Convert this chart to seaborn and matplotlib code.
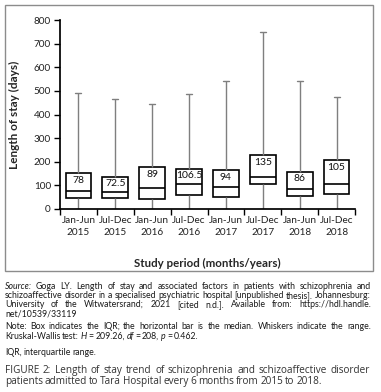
import numpy as np
import pandas as pd
import matplotlib
matplotlib.use("Agg")
import matplotlib.pyplot as plt
from matplotlib.patches import Rectangle
import seaborn as sns

# summary values per 6-month period (days)
periods = ["Jan-Jun\n2015", "Jul-Dec\n2015", "Jan-Jun\n2016", "Jul-Dec\n2016",
           "Jan-Jun\n2017", "Jul-Dec\n2017", "Jan-Jun\n2018", "Jul-Dec\n2018"]
mins = [1, 1, 1, 1, 1, 1, 1, 1]
q1s = [45, 45, 41, 61, 50, 105, 54, 64]
medians = [78, 72.5, 89, 106.5, 94, 135, 86, 105]
q3s = [151, 137, 177, 171, 164, 229, 158, 206]
maxs = [491, 467, 443, 486, 541, 751, 541, 473]
median_labels = ["78", "72.5", "89", "106.5", "94", "135", "86", "105"]

# five points per group -> quartiles come out exactly as above
rows = []
for p, a, b, c, d, e in zip(periods, mins, q1s, medians, q3s, maxs):
    for v in (a, b, c, d, e):
        rows.append({"period": p, "los": v})
df = pd.DataFrame(rows)

sns.set_theme(style="ticks")
plt.rcParams['font.family'] = ['Lato', 'DejaVu Sans']

W, H = 381, 392
fig = plt.figure(figsize=(W / 100, H / 100), dpi=100)
ax = fig.add_axes([60 / W, 1 - 209 / H, 295 / W, 189 / H])

sns.boxplot(data=df, x="period", y="los", order=periods, whis=(0, 100), width=0.7,
            color="white", linecolor="black", linewidth=1.2, showfliers=False,
            whiskerprops=dict(color="#7f7f7f", linewidth=1),
            capprops=dict(color="#7f7f7f", linewidth=1),
            ax=ax)

# shorter caps
for ln in ax.lines:
    x = ln.get_xdata()
    y = ln.get_ydata()
    if len(x) == 2 and y[0] == y[1] and ln.get_color() == "#7f7f7f":
        c = (x[0] + x[1]) / 2
        ln.set_xdata([c - 0.08, c + 0.08])

for i, (top, lab) in enumerate(zip(q3s, median_labels)):
    ax.annotate(lab, (i, top), xytext=(0, -2), textcoords="offset points",
                ha="center", va="top", fontsize=7.5, color="#111111")

ax.set_ylim(0, 800)
ax.set_xlim(-0.5, 7.5)
ax.set_yticks(range(0, 801, 100))
ax.set_xticks(np.arange(-0.5, 8, 1), minor=True)
ax.tick_params(axis="x", which="major", length=0, labelsize=7.2, pad=5, colors="#222222")
ax.tick_params(axis="x", which="minor", length=4, width=1, color="black")
ax.tick_params(axis="y", length=4.5, width=1, labelsize=7.2, colors="#222222", pad=2)
ax.tick_params(axis="y", color="black")
for lab in ax.get_xticklabels():
    lab.set_linespacing(1.4)
sns.despine(ax=ax)
ax.spines["left"].set_color("black")
ax.spines["bottom"].set_color("black")
ax.set_xlabel("")
ax.set_ylabel("Length of stay (days)", fontsize=8.5, fontweight="bold")
ax.yaxis.set_label_coords((20 - 60) / 295, 0.5)

fig.text(207 / W, 1 - 263 / H, "Study period (months/years)", ha="center", va="center",
         fontsize=8.3, fontweight="bold")

fig.patches.append(Rectangle((5 / W, 1 - 271 / H), 368 / W, 266 / H, transform=fig.transFigure,
                             fill=False, edgecolor="#8c8c8c", linewidth=1))

renderer = fig.canvas.get_renderer()


def words_of(s, style="normal"):
    return [(w, style) for w in s.split()]


def natural_width(words, size, family):
    tot = 0
    for w, st in words:
        t = fig.text(0, 0, w, fontsize=size, fontstyle=st, family=family)
        tot += t.get_window_extent(renderer).width
        t.remove()
    return tot + size * 0.26 * (len(words) - 1)


def text_line(words, y, size, family="Lato", justify=True, x0=5, x1=371, color="#1a1a1a"):
    # y is the visual middle of the line; words sit on a common baseline
    base = y + size * 100 / 72 * 0.35
    arts = []
    for w, st in words:
        arts.append(fig.text(0, 1 - base / H, w, fontsize=size, fontstyle=st, family=family,
                             ha="left", va="baseline", color=color))
    widths = [t.get_window_extent(renderer).width for t in arts]
    gap = size * 0.26
    if justify and len(arts) > 1:
        gap = (x1 - x0 - sum(widths)) / (len(arts) - 1)
    x = x0
    for t, w in zip(arts, widths):
        t.set_x(x / W)
        x += w + gap


kruskal = (words_of("Kruskal-Wallis test:") + [("H", "italic")] + words_of("= 209.26,")
           + [("df", "italic")] + words_of("= 208,") + [("p", "italic")] + words_of("= 0.462."))
schizo = words_of("schizoaffective disorder in a specialised psychiatric hospital [unpublished thesis]. Johannesburg:")
cap2 = words_of("patients admitted to Tara Hospital every 6 months from 2015 to 2018.")

# font sizes chosen so the tightest lines have the widths seen in the figure
body = 6 * 362 / natural_width(schizo, 6, "Lato")
cap = 7 * 320 / natural_width(cap2, 7, "Open Sans")

text_line([("Source:", "italic")] + words_of("Goga LY. Length of stay and associated factors in patients with schizophrenia and"), 286, body)
text_line(schizo, 295, body)
text_line(words_of("University of the Witwatersrand; 2021 [cited n.d.]. Available from: https://hdl.handle."), 304, body)
text_line(words_of("net/10539/33119"), 313, body, justify=False)
text_line(words_of("Note: Box indicates the IQR; the horizontal bar is the median. Whiskers indicate the range."), 326, body)
text_line(kruskal, 336, body, justify=False)
text_line(words_of("IQR, interquartile range."), 352, body, justify=False)
text_line(words_of("FIGURE 2: Length of stay trend of schizophrenia and schizoaffective disorder"), 370,
          cap, family="Open Sans", x1=370, color="#333333")
text_line(cap2, 381, cap, family="Open Sans", justify=False, color="#333333")

fig.savefig("out.png", dpi=100)
